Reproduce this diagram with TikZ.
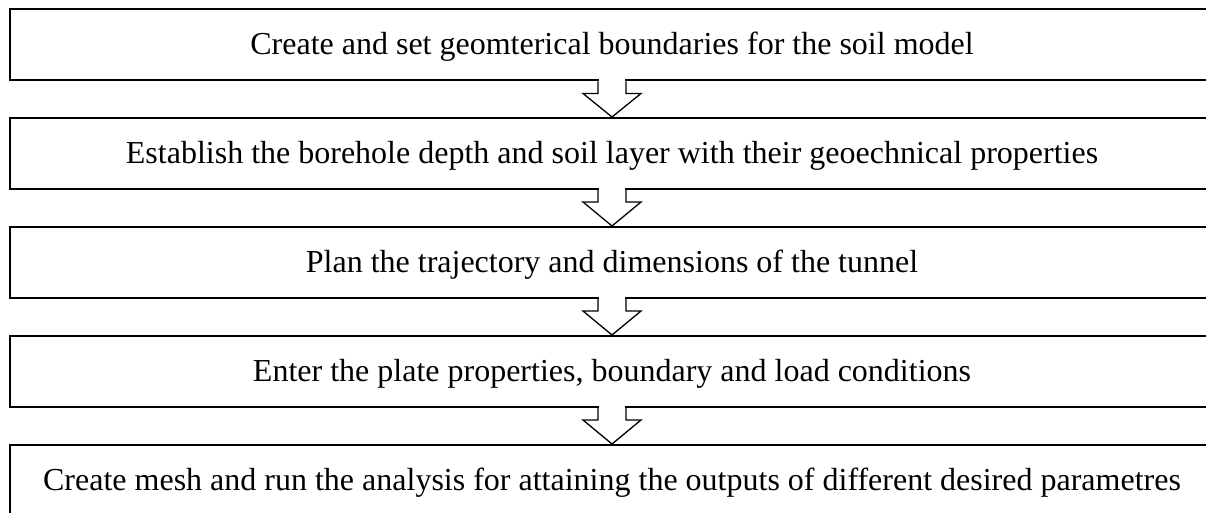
\documentclass[tikz,border=0pt]{standalone}
\usepackage{fontspec}
\setmainfont{Liberation Serif}
\usetikzlibrary{calc}
\tikzset{
  stepbox/.style={draw=black, line width=2pt, fill=white, minimum width=1204pt, minimum height=71pt, inner sep=0pt, text height=24pt, text depth=4pt, font=\fontsize{32}{38}\selectfont},
  blockarr/.style={draw=black, line width=1.3pt, line join=miter},
}
\newcommand{\blockarrow}[2]{%
  \fill[white] ($(#1.south)+(-13.3,2)$) rectangle ($(#1.south)+(13.3,-12)$);
  \fill[white] ($(#1.south)+(-29,12)$) -- (#2.north) -- ($(#1.south)+(29,12)$) -- cycle;
  \draw[blockarr] ($(#1.south)+(-14,0)$) -- ++(0,12) -- ++(-15,0) -- (#2.north) -- ($(#1.south)+(29,12)$) -- ++(-15,0) -- ++(0,-12);
}
\begin{document}
\begin{tikzpicture}[x=1pt,y=-1pt]
\useasboundingbox (0,0) rectangle (1206,513);
\clip (0,0) rectangle (1206,513);
\node[stepbox] (b1) at (612,45) {Create and set geomterical boundaries for the soil model};
\node[stepbox] (b2) at (612,153.5) {Establish the borehole depth and soil layer with their geoechnical properties};
\node[stepbox] (b3) at (612,262.5) {Plan the trajectory and dimensions of the tunnel};
\node[stepbox] (b4) at (612,371.5) {Enter the plate properties, boundary and load conditions};
\node[stepbox] (b5) at (612,480.5) {Create mesh and run the analysis for attaining the outputs of different desired parametres};
\blockarrow{b1}{b2}
\blockarrow{b2}{b3}
\blockarrow{b3}{b4}
\blockarrow{b4}{b5}
\end{tikzpicture}
\end{document}
